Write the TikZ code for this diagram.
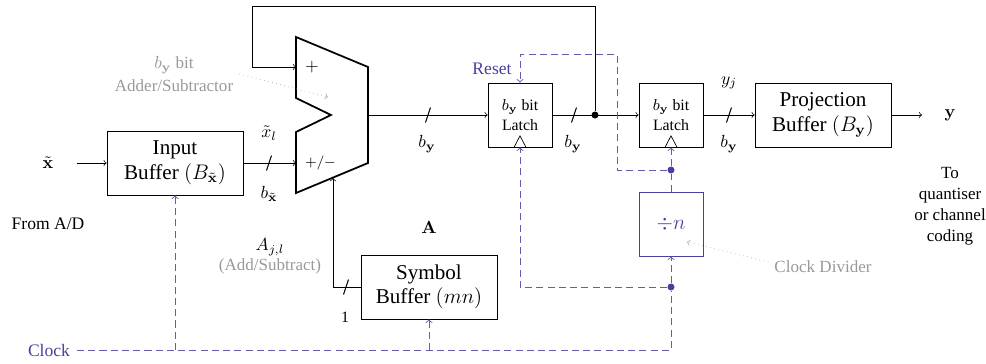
\documentclass[tikz,border=0pt]{standalone}
\usepackage{amsmath}
\usepackage{amssymb}
\usepackage[no-math]{fontspec}
\setmainfont{Liberation Serif}
\usetikzlibrary{arrows,calc}

\definecolor{clockblue}{RGB}{72,64,160}
\tikzset{
	block/.style={draw,minimum width=2.72cm,minimum height=1.28cm,align=center,inner sep=0pt,font=\large},
	latch/.style={draw,minimum width=1.28cm,minimum height=1.28cm,align=center,inner sep=0pt,font=\small},
	clockline/.style={clockblue!85,line width=0.5pt,dash pattern=on 4pt off 2.4pt},
	busmark/.style={semithick},
	note/.style={gray!80,align=center,font=\fontsize{9.7}{11.6}\selectfont},
	dot/.style={circle,fill,inner sep=0pt,minimum size=0.14cm},
	pointer/.style={->,dotted,gray!70}
}

\begin{document}
\begin{tikzpicture}
	\useasboundingbox (0,0) rectangle (19.72,7.26);
	% blocks
	\node[block] (inbuf) at (3.5,4) {Input\\Buffer $(B_{\tilde{\mathbf{x}}})$};
	\node[block] (symbuf) at (8.58,1.52) {Symbol\\Buffer $(mn)$};
	\node[block] (projbuf) at (16.46,4.96) {Projection\\Buffer $(B_{\mathbf{y}})$};
	\node[latch] (latcha) at (10.4,4.96) {$b_{\mathbf{y}}$ bit\\Latch};
	\node[latch] (latchb) at (13.42,4.96) {$b_{\mathbf{y}}$ bit\\Latch};
	\node[latch,draw=clockblue,text=clockblue,font=\large] (divider) at (13.42,2.78) {$\div n$};
	% adder
	\draw[line width=1pt] (5.92,6.52)--(7.36,5.92)--(7.36,4)--(5.92,3.4)--(5.92,4.62)--(6.62,4.96)--(5.92,5.3)--cycle;
	\coordinate (addplus) at (5.92,5.92);
	\coordinate (addminus) at (5.92,4);
	\coordinate (addctrl) at (6.66,3.7);
	\coordinate (addout) at (7.36,4.96);
	\node (plus) at (6.24,5.92) {$+$};
	\node[font=\footnotesize] (plusminus) at (6.41,4) {$+/-$};
	% signals
	\node (xin) at (0.96,4) {$\tilde{\mathbf{x}}$};
	\node (yout) at (19,4.96) {$\mathbf{y}$};
	\coordinate (xstart) at (1.54,4);
	\coordinate (yend) at (18.44,4.96);
	\node[dot] (fbdot) at (11.9,4.96) {};
	\coordinate (fbcorner) at (5.04,7.14);
	\draw[->] (xstart)--(inbuf);
	\draw[->] (inbuf)--(addminus);
	\draw[->] (addout)--(latcha);
	\draw[->] (latcha)--(latchb);
	\draw[->] (latchb)--(projbuf);
	\draw[->] (projbuf)--(yend);
	\draw[->] (fbdot)|-(fbcorner)|-(addplus);
	\draw[->] (symbuf.west)-|(addctrl);
	% bus marks
	\foreach \busx/\busy in {5.38/4,8.56/4.96,11.48/4.96,14.58/4.96,6.92/1.52}
		\draw[busmark] (\busx-0.05,\busy-0.15)--(\busx+0.05,\busy+0.15);
	% latch clock inputs
	\draw ($(latcha.south)+(-0.12,0)$)--($(latcha.south)+(0,0.23)$)--($(latcha.south)+(0.12,0)$);
	\draw ($(latchb.south)+(-0.12,0)$)--($(latchb.south)+(0,0.23)$)--($(latchb.south)+(0.12,0)$);
	% clock
	\node[clockblue] (clock) at (0.98,0.26) {Clock};
	\node[clockblue] (reset) at (9.84,5.88) {Reset};
	\coordinate (clockstart) at (1.54,0.26);
	\coordinate (clockin) at (3.5,0.26);
	\coordinate (clocksym) at (8.58,0.26);
	\coordinate (clockdiv) at (13.42,0.26);
	\coordinate (resetright) at (12.34,6.18);
	\coordinate (resetleft) at (10.4,6.18);
	\coordinate (dotright) at (12.34,3.86);
	\coordinate (dotleft) at (10.4,1.52);
	\node[dot,clockblue] (divdot) at (13.42,1.52) {};
	\node[dot,clockblue] (latchdot) at (13.42,3.86) {};
	\draw[clockline] (clockstart)--(clockdiv)--(divdot);
	\draw[clockline,->] (divdot)--(divider.south);
	\draw[clockline,->] (clockin)--(inbuf.south);
	\draw[clockline,->] (clocksym)--(symbuf.south);
	\draw[clockline,->] (divdot)--(dotleft)--(latcha.south);
	\draw[clockline] (divider.north)--(latchdot);
	\draw[clockline,->] (latchdot)--(latchb.south);
	\draw[clockline,->] (latchdot)--(dotright)--(resetright)--(resetleft)--(latcha.north);
	% labels
	\node (xl) at (5.38,4.6) {$\tilde{x}_l$};
	\node (bx) at (5.38,3.38) {$b_{\tilde{\mathbf{x}}}$};
	\node (bya) at (8.54,4.38) {$b_{\mathbf{y}}$};
	\node (byb) at (11.46,4.38) {$b_{\mathbf{y}}$};
	\node (byc) at (14.58,4.38) {$b_{\mathbf{y}}$};
	\node (yj) at (14.58,5.6) {$y_j$};
	\node[font=\small] (one) at (6.9,0.92) {1};
	\node (bolda) at (8.58,2.72) {$\mathbf{A}$};
	\node (ajl) at (5.4,2.32) {$A_{j,l}$};
	\node[note] (addsub) at (5.4,1.94) {(Add/Subtract)};
	\node[note] (addnote) at (3.48,5.78) {$b_{\mathbf{y}}$ bit\\[1pt]Adder/Subtractor};
	\node[note] (divnote) at (16.46,1.92) {Clock Divider};
	\node (fromad) at (0.96,2.78) {From A/D};
	\node[align=center,font=\fontsize{9.7}{12}\selectfont] (tocoding) at (19,3.14) {To\\quantiser\\or channel\\coding};
	\draw[pointer] (addnote.east)--(6.56,5.32);
	\draw[pointer] ($(divnote.west)+(0,0.1)$)--(13.74,2.42);
\end{tikzpicture}
\end{document}
